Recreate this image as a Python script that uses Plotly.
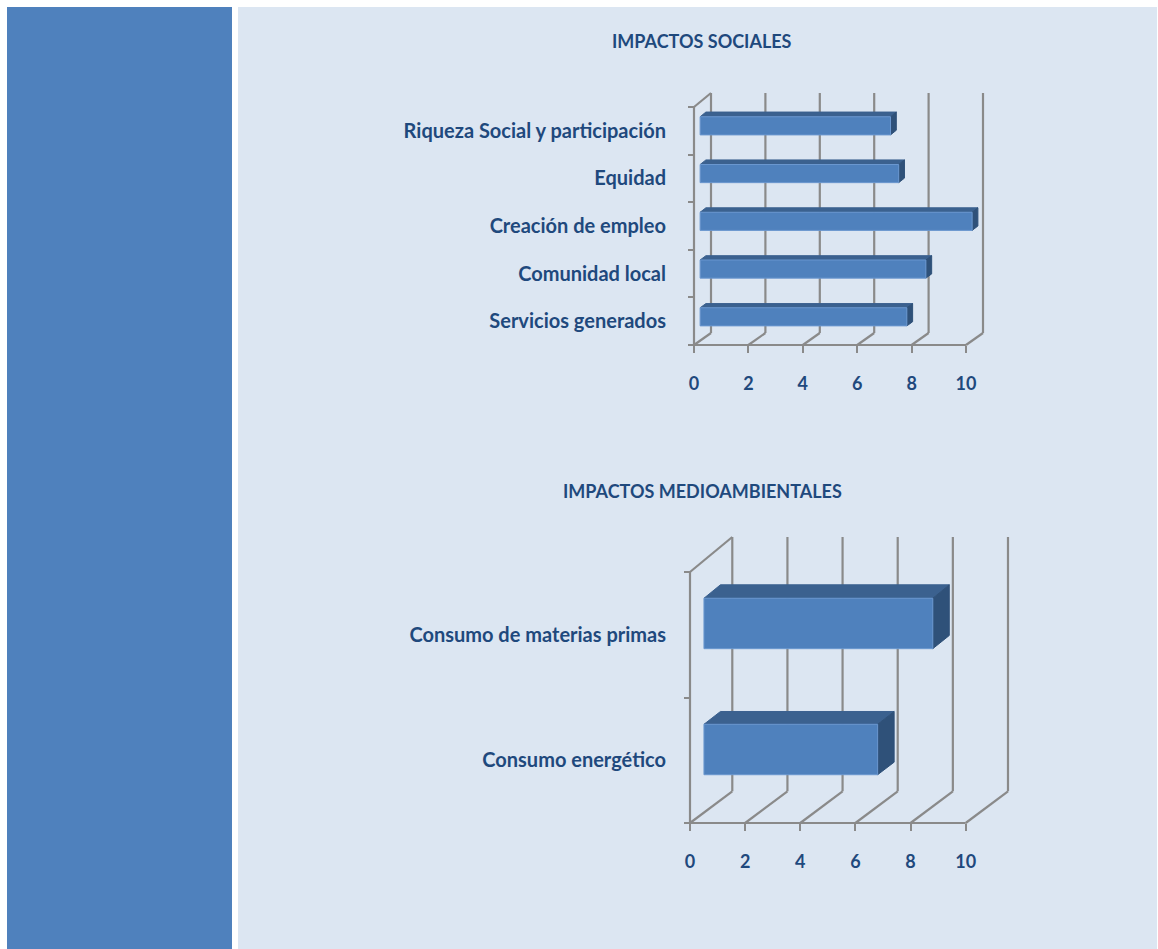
import plotly.graph_objects as go

# ---- data -------------------------------------------------------------
social_categories = ["Servicios generados", "Comunidad local", "Creación de empleo",
                     "Equidad", "Riqueza Social y participación"]
social_values = [7.6, 8.3, 10.0, 7.3, 7.0]

env_categories = ["Consumo energético", "Consumo de materias primas"]
env_values = [6.3, 8.3]

x_ticks = [0, 2, 4, 6, 8, 10]

# ---- styling ----------------------------------------------------------
W, H = 1158, 949
FONT = "Lato"
TEXT = "#1f497d"
GRID = "#8a8a8a"
FRONT = "#4f81bd"
TOP = "#3b618f"
SIDE = "#2f5179"
PANEL_DARK = "#4f81bd"
PANEL_LIGHT = "#dce6f2"


def px_x(p):
    return p / W


def px_y(p):
    return 1 - p / H


# oblique "3D" geometry for each chart (all in axis units)
charts = [
    dict(name="social", cats=social_categories, vals=social_values,
         title="IMPACTOS SOCIALES", title_y=41,
         x0_px=694, unit_x=27.2, floor_px=345, unit_y=47.6,
         dx=0.625, dy=0.252, s=0.0084, depth=(0.36, 0.70), half=0.19,
         label_gap=28, dom_x=(684, 1000), dom_y=(85, 352), xa="x", ya="y"),
    dict(name="env", cats=env_categories, vals=env_values,
         title="IMPACTOS MEDIOAMBIENTALES", title_y=491,
         x0_px=690, unit_x=27.57, floor_px=823, unit_y=125.5,
         dx=1.534, dy=0.2526, s=0.0132, depth=(0.33, 0.72), half=0.20,
         label_gap=24, dom_x=(680, 1025), dom_y=(525, 830), xa="x2", ya="y2"),
]


def project(c, x, y, d):
    return x + c["dx"] * d, y * (1 + c["s"] * d) + c["dy"] * d


fig = go.Figure()
layout_axes = {}
annotations = []

for i, c in enumerate(charts):
    n = len(c["cats"])
    xmax = x_ticks[-1]

    # walls and floor gridlines
    lx, ly = [], []

    def seg(p, q):
        lx.extend([p[0], q[0], None])
        ly.extend([p[1], q[1], None])

    seg(project(c, 0, 0, 0), project(c, xmax, 0, 0))          # floor front edge
    seg(project(c, 0, 0, 0), project(c, 0, n, 0))             # left wall front edge
    seg(project(c, 0, n, 0), project(c, 0, n, 1))             # left wall top edge
    for v in x_ticks:
        seg(project(c, v, 0, 0), project(c, v, 0, 1))         # floor gridline
        seg(project(c, v, 0, 1), project(c, v, n, 1))         # back wall gridline

    fig.add_trace(go.Scatter(x=lx, y=ly, mode="lines", xaxis=c["xa"], yaxis=c["ya"],
                             line=dict(color=GRID, width=2.2), hoverinfo="skip"))

    # bars: top face, side face, front face
    f1, f2 = c["depth"]
    h = c["half"]
    for k, v in enumerate(c["vals"]):
        yc = k + 0.5
        faces = [
            ([(0, yc + h, f1), (v, yc + h, f1), (v, yc + h, f2), (0, yc + h, f2)], TOP),
            ([(v, yc - h, f1), (v, yc - h, f2), (v, yc + h, f2), (v, yc + h, f1)], SIDE),
            ([(0, yc - h, f1), (v, yc - h, f1), (v, yc + h, f1), (0, yc + h, f1)], FRONT),
        ]
        for pts, col in faces:
            xy = [project(c, *p) for p in pts]
            xs = [p[0] for p in xy] + [xy[0][0]]
            ys = [p[1] for p in xy] + [xy[0][1]]
            fig.add_trace(go.Scatter(
                x=xs, y=ys, mode="lines", fill="toself", fillcolor=col,
                line=dict(color="#6a97cf" if col == FRONT else col, width=1),
                xaxis=c["xa"], yaxis=c["ya"],
                hovertemplate=f"{c['cats'][k]}: {v}<extra></extra>" if col == FRONT else None,
                hoverinfo=None if col == FRONT else "skip"))

    # axis ranges derived from pixel geometry of the plotting box
    dxl, dxr = c["dom_x"]
    dyt, dyb = c["dom_y"]
    xr = [(dxl - c["x0_px"]) / c["unit_x"], (dxr - c["x0_px"]) / c["unit_x"]]
    yr = [-(dyb - c["floor_px"]) / c["unit_y"], (c["floor_px"] - dyt) / c["unit_y"]]

    suffix = "" if i == 0 else "2"
    layout_axes["xaxis" + suffix] = dict(
        domain=[px_x(dxl), px_x(dxr)], range=xr, anchor="free",
        position=px_y(c["floor_px"]),
        tickmode="array", tickvals=x_ticks, ticktext=[str(t) for t in x_ticks],
        ticks="outside", ticklen=7, tickwidth=2, tickcolor=GRID,
        ticklabelstandoff=15,
        tickfont=dict(family=FONT, size=18, color=TEXT, weight="bold"),
        showgrid=False, zeroline=False, showline=False, fixedrange=True,
    )
    layout_axes["yaxis" + suffix] = dict(
        domain=[px_y(dyb), px_y(dyt)], range=yr, anchor="free",
        position=px_x(c["x0_px"]),
        tickmode="array", tickvals=[k + 0.5 for k in range(n)], ticktext=c["cats"],
        ticks="", ticklabelstandoff=c["label_gap"],
        minor=dict(tickmode="array", tickvals=list(range(n + 1)), ticks="outside",
                   ticklen=6, tickwidth=2, tickcolor=GRID, showgrid=False),
        tickfont=dict(family=FONT, size=20, color=TEXT, weight="bold"),
        showgrid=False, zeroline=False, showline=False, fixedrange=True,
    )
    annotations.append(dict(
        text=c["title"], xref="paper", yref="paper", x=px_x(702), y=px_y(c["title_y"]),
        xanchor="center", yanchor="middle", showarrow=False,
        font=dict(family=FONT, size=18, color=TEXT, weight="bold")))

shapes = [
    dict(type="rect", xref="paper", yref="paper", layer="below",
         x0=px_x(7), x1=px_x(232), y0=px_y(949), y1=px_y(7),
         fillcolor=PANEL_DARK, line=dict(width=0)),
    dict(type="rect", xref="paper", yref="paper", layer="below",
         x0=px_x(238), x1=px_x(1157), y0=px_y(949), y1=px_y(7),
         fillcolor=PANEL_LIGHT, line=dict(width=0)),
]

fig.update_layout(
    width=W, height=H, margin=dict(l=0, r=0, t=0, b=0),
    paper_bgcolor="white", plot_bgcolor="rgba(0,0,0,0)",
    showlegend=False, shapes=shapes, annotations=annotations,
    **layout_axes,
)

fig.write_html("out.html", config={"displayModeBar": False})
